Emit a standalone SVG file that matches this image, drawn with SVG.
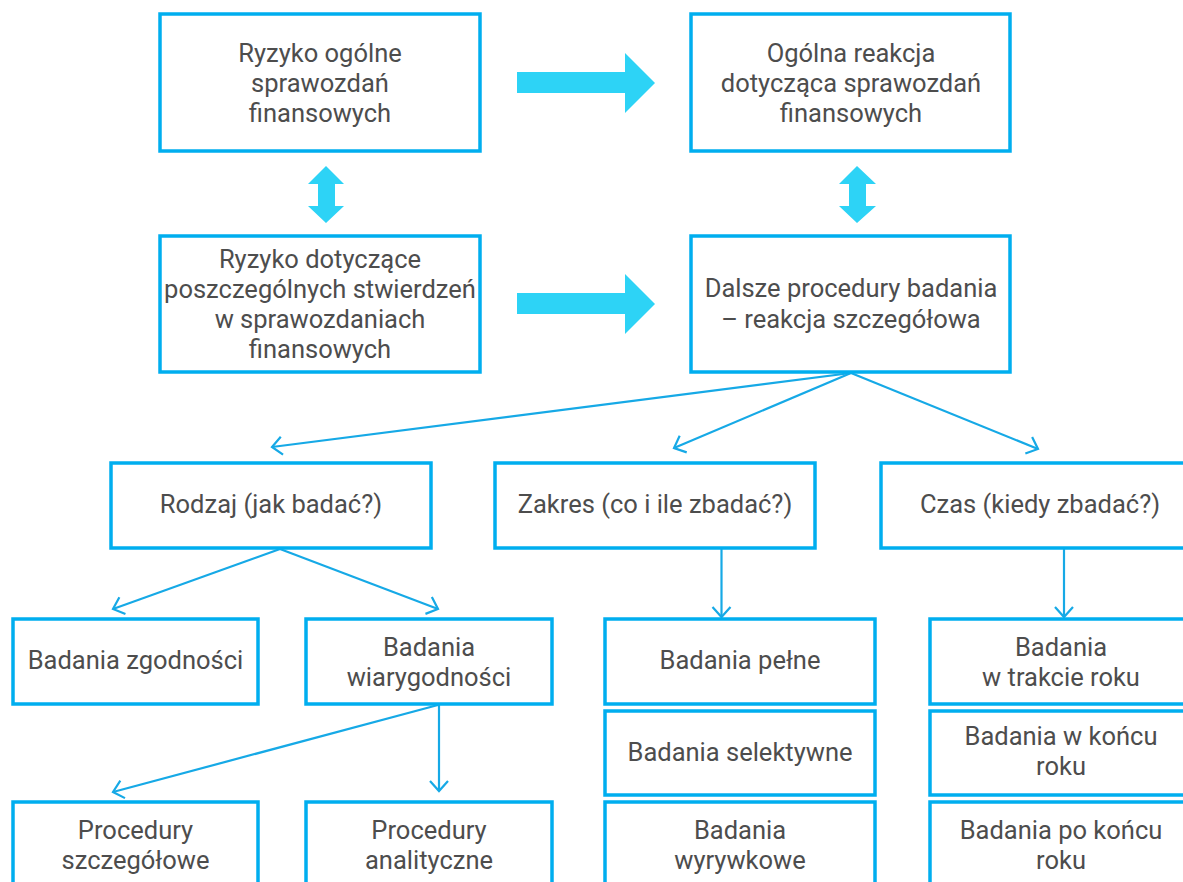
<svg xmlns="http://www.w3.org/2000/svg" width="1183" height="882" viewBox="0 0 1183 882">
<style>
.box{fill:#fff;stroke:#00AEEF;stroke-width:3.5}
.t{font-family:Roboto,"Open Sans",sans-serif;font-size:25.5px;fill:#4D4D4D;text-anchor:middle}
.c{stroke:#16A9E6;stroke-width:2.2;fill:none}
.big{fill:#2DD3F6}
</style>
<defs>
<marker id="ch" markerUnits="userSpaceOnUse" viewBox="-12 -11 14 22" refX="0" refY="0" markerWidth="14" markerHeight="22" orient="auto">
<path d="M-10,-9 L0,0 L-10,9" fill="none" stroke="#16A9E6" stroke-width="2.2"/>
</marker>
</defs>
<rect width="1183" height="882" fill="#fff"/>

<g id="connectors">
<polygon class="big" points="517,72 625,72 625,53 655,83 625,113 625,93 517,93"/>
<polygon class="big" points="517,293 625,293 625,274 655,304 625,334 625,314 517,314"/>
<polygon class="big" points="326,166 344,184 335,184 335,206 344,206 326,223 308,206 318,206 318,184 308,184"/>
<polygon class="big" points="857,166 876,184 866,184 866,206 876,206 857,223 839,206 849,206 849,184 839,184"/>
<line class="c" x1="851" y1="373" x2="272" y2="447" marker-end="url(#ch)"/>
<line class="c" x1="851" y1="373" x2="674" y2="448" marker-end="url(#ch)"/>
<line class="c" x1="851" y1="373" x2="1038" y2="449" marker-end="url(#ch)"/>
<line class="c" x1="280" y1="549" x2="113" y2="609" marker-end="url(#ch)"/>
<line class="c" x1="280" y1="549" x2="438" y2="609" marker-end="url(#ch)"/>
<line class="c" x1="721.5" y1="549" x2="721.5" y2="617" marker-end="url(#ch)"/>
<line class="c" x1="1064" y1="549" x2="1064" y2="617" marker-end="url(#ch)"/>
<line class="c" x1="438" y1="705" x2="113" y2="792" marker-end="url(#ch)"/>
<line class="c" x1="439" y1="705" x2="439" y2="791" marker-end="url(#ch)"/>
</g>

<g id="n1"><rect class="box" x="160" y="14" width="320" height="137"/>
<text class="t" x="320" y="62">Ryzyko ogólne</text><text class="t" x="320" y="92">sprawozdań</text><text class="t" x="320" y="122">finansowych</text></g>
<g id="n2"><rect class="box" x="691" y="14" width="319" height="137"/>
<text class="t" x="851" y="62">Ogólna reakcja</text><text class="t" x="851" y="92">dotycząca sprawozdań</text><text class="t" x="851" y="122">finansowych</text></g>
<g id="n3"><rect class="box" x="160" y="236" width="320" height="136"/>
<text class="t" x="320" y="268">Ryzyko dotyczące</text><text class="t" x="320" y="298">poszczególnych stwierdzeń</text><text class="t" x="320" y="328">w sprawozdaniach</text><text class="t" x="320" y="358">finansowych</text></g>
<g id="n4"><rect class="box" x="691" y="236" width="319" height="136"/>
<text class="t" x="851" y="297">Dalsze procedury badania</text><text class="t" x="851" y="328">– reakcja szczegółowa</text></g>

<g id="n5"><rect class="box" x="111" y="463" width="320" height="85"/>
<text class="t" x="271" y="513">Rodzaj (jak badać?)</text></g>
<g id="n6"><rect class="box" x="495" y="463" width="320" height="85"/>
<text class="t" x="655" y="513">Zakres (co i ile zbadać?)</text></g>
<g id="n7"><rect class="box" x="881" y="463" width="320" height="85"/>
<text class="t" x="1040" y="513">Czas (kiedy zbadać?)</text></g>

<g id="n8"><rect class="box" x="13" y="619" width="245" height="85"/>
<text class="t" x="135.5" y="669">Badania zgodności</text></g>
<g id="n9"><rect class="box" x="306" y="619" width="246" height="85"/>
<text class="t" x="429" y="656">Badania</text><text class="t" x="429" y="686">wiarygodności</text></g>
<g id="n10"><rect class="box" x="13" y="802" width="245" height="100"/>
<text class="t" x="135.5" y="839">Procedury</text><text class="t" x="135.5" y="869">szczegółowe</text></g>
<g id="n11"><rect class="box" x="306" y="802" width="246" height="100"/>
<text class="t" x="429" y="839">Procedury</text><text class="t" x="429" y="869">analityczne</text></g>

<g id="n12"><rect class="box" x="605" y="619" width="270" height="85"/>
<text class="t" x="740" y="669">Badania pełne</text></g>
<g id="n13"><rect class="box" x="605" y="711" width="270" height="84"/>
<text class="t" x="740" y="761">Badania selektywne</text></g>
<g id="n14"><rect class="box" x="605" y="802" width="270" height="100"/>
<text class="t" x="740" y="839">Badania</text><text class="t" x="740" y="869">wyrywkowe</text></g>

<g id="n15"><rect class="box" x="930" y="619" width="262" height="85"/>
<text class="t" x="1061" y="656">Badania</text><text class="t" x="1061" y="686">w trakcie roku</text></g>
<g id="n16"><rect class="box" x="930" y="711" width="262" height="84"/>
<text class="t" x="1061" y="745">Badania w końcu</text><text class="t" x="1061" y="775">roku</text></g>
<g id="n17"><rect class="box" x="930" y="802" width="262" height="100"/>
<text class="t" x="1061" y="839">Badania po końcu</text><text class="t" x="1061" y="869">roku</text></g>
</svg>
